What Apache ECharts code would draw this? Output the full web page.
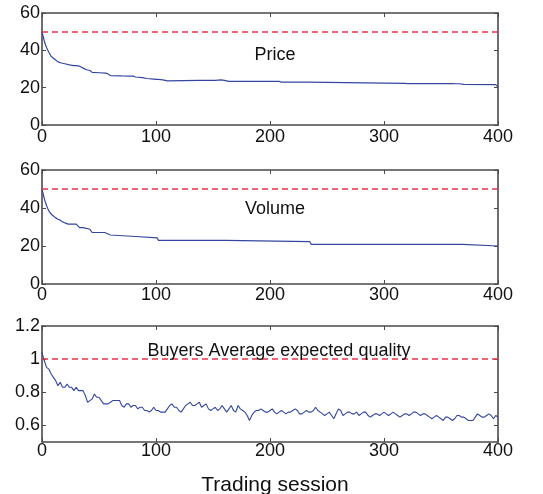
<!DOCTYPE html>
<html>
<head>
<meta charset="UTF-8">
<title>Trading session</title>
<script src="https://cdn.jsdelivr.net/npm/echarts@6/dist/echarts.min.js"></script>
<style>
  html, body { margin: 0; padding: 0; background: #fff; }
  #chart { width: 543px; height: 494px; }
</style>
</head>
<body>
<div id="chart"></div>
<script>
// data: [session, value]
var price = [[0,50],[1,47.5],[2,45],[3,43],[4,41.5],[5,40.2],[6,39],[7,38],[8,36.8],[10,35.8],[12,34.8],[14,33.8],
  [17,33.2],[20,32.8],[24,32.2],[28,31.8],[30,31.8],[31,31.3],[33,31.5],[34,31],[37,30.2],[39,29.6],[42,29.2],[44,28.2],
  [50,28],[56,27.8],[58,27.3],[60,26.5],[70,26.3],[78,26.2],[79,25.8],[80,26.2],[82,25.7],[88,25.4],[92,24.9],[98,24.6],
  [100,24.4],[101,24.9],[102,24.4],[106,24.2],[108,23.9],[110,23.6],[111,23.9],[138,23.9],[139,23.6],[140,23.9],
  [152,23.9],[153,24.2],[157,24.2],[158,23.7],[160,23.9],[164,23.4],[208,23.4],[210,23],[230,23],[231,22.6],[233,23],
  [234,22.3],[318,22.3],[319,21.7],[321,22.2],[325,22.2],[326,21.7],[328,22.2],[345,22.2],[346,21.7],[347,22.2],
  [360,22.2],[361,21.7],[363,22.1],[366,22.1],[367,21.7],[370,21.8],[398,21.6],[399,21.4],[400,20.4]];

var volume = [[0,50],[1,47.5],[2,45],[3,43],[4,41.2],[5,39.8],[6,38.5],[7,37.8],[8,36.8],[10,35.8],[12,34.8],[14,34.1],
  [16,33.6],[18,32.7],[20,32.2],[23,31.5],[30,31.5],[31,30.6],[33,29.7],[36,29.7],[37,28.8],[42,28.8],[43,27.9],[44,27.1],
  [55,27.1],[56,26.3],[60,25.8],[61,25],[82,25],[83,24.3],[101,24.3],[102,23],[161,23],[162,22.3],[235,22.3],[236,20.9],
  [369,20.9],[370,20],[400,20]];

// buyers' average expected quality, one reading every 2 sessions (0..400)
var qualityStep = 2;
var quality = [
  1.04,0.99,0.95,0.94,0.91,0.89,0.87,0.84,0.86,0.83,
  0.83,0.85,0.83,0.83,0.81,0.83,0.81,0.81,0.81,0.78,
  0.74,0.75,0.76,0.79,0.77,0.77,0.75,0.73,0.73,0.73,
  0.74,0.75,0.75,0.75,0.75,0.72,0.71,0.73,0.73,0.71,
  0.72,0.72,0.70,0.71,0.71,0.69,0.69,0.68,0.69,0.71,
  0.69,0.69,0.68,0.68,0.68,0.70,0.72,0.73,0.71,0.71,
  0.69,0.68,0.70,0.72,0.73,0.74,0.72,0.72,0.73,0.74,
  0.71,0.72,0.73,0.70,0.69,0.70,0.71,0.69,0.70,0.72,
  0.70,0.68,0.70,0.72,0.69,0.68,0.72,0.70,0.69,0.68,
  0.66,0.63,0.66,0.68,0.69,0.69,0.70,0.69,0.68,0.68,
  0.69,0.70,0.68,0.67,0.68,0.69,0.68,0.67,0.68,0.68,
  0.69,0.70,0.69,0.67,0.67,0.68,0.69,0.68,0.68,0.69,
  0.71,0.69,0.68,0.67,0.66,0.67,0.68,0.66,0.64,0.67,
  0.70,0.69,0.66,0.67,0.68,0.68,0.67,0.67,0.68,0.66,
  0.67,0.68,0.68,0.66,0.65,0.66,0.67,0.67,0.66,0.67,
  0.68,0.67,0.66,0.67,0.68,0.67,0.66,0.65,0.66,0.67,
  0.67,0.66,0.67,0.68,0.68,0.67,0.66,0.67,0.67,0.66,
  0.65,0.64,0.65,0.66,0.65,0.64,0.63,0.65,0.65,0.64,
  0.63,0.64,0.66,0.66,0.65,0.65,0.64,0.63,0.63,0.63,
  0.65,0.67,0.66,0.65,0.65,0.66,0.67,0.66,0.64,0.66,
  0.65];

var refPrice = 50, refVolume = 50, refQuality = 1;
var panelTitles = ['Price', 'Volume', 'Buyers Average expected quality'];
var xTicks = [0, 100, 200, 300, 400];
var yTicksTop = [0, 20, 40, 60];
var yTicksQuality = [0.6, 0.8, 1, 1.2];
var xName = 'Trading session';

var font = 'Liberation Sans, Arial, Helvetica, sans-serif';
var blue = '#3447a0', red = '#e8334a', frame = '#4a4a4a';

var grids = [
  { left: 42, right: 45, top: 13, height: 112 },
  { left: 42, right: 45, top: 170, height: 114 },
  { left: 42, right: 45, top: 326, height: 116 }
];

var xAxes = [], yAxes = [];
var xMargins = [3, 2, 0];
var frameLine = { show: true, onZero: false, lineStyle: { color: frame, width: 1.6 } };
grids.forEach(function (g, i) {
  // bottom axis with labels
  xAxes.push({
    type: 'value', gridIndex: i, min: 0, max: 400, interval: 100,
    axisLine: frameLine,
    axisTick: { inside: true, length: 4, lineStyle: { color: frame } },
    axisLabel: { color: '#111', fontSize: 18, fontFamily: font, margin: xMargins[i],
      customValues: xTicks, showMinLabel: true, showMaxLabel: true },
    splitLine: { show: false }
  });
  // top frame
  xAxes.push({
    type: 'value', gridIndex: i, position: 'top', min: 0, max: 400, interval: 100,
    axisLine: frameLine,
    axisTick: { inside: true, length: 4, lineStyle: { color: frame } },
    axisLabel: { show: false }, splitLine: { show: false }
  });
  var yq = i === 2;
  var yBase = yq
    ? { min: 0.5, max: 1.2, interval: 0.1 }
    : { min: 0, max: 60, interval: 20 };
  var ticks = yq ? yTicksQuality : yTicksTop;
  yAxes.push(Object.assign({
    type: 'value', gridIndex: i,
    axisLine: frameLine,
    axisTick: { show: true, inside: true, length: 4, lineStyle: { color: frame }, customValues: ticks },
    axisLabel: { color: '#111', fontSize: 18, fontFamily: font, margin: 2, customValues: ticks },
    splitLine: { show: false }
  }, yBase));
  yAxes.push(Object.assign({
    type: 'value', gridIndex: i, position: 'right',
    axisLine: frameLine,
    axisTick: { show: true, inside: true, length: 4, lineStyle: { color: frame }, customValues: ticks },
    axisLabel: { show: false }, splitLine: { show: false }
  }, yBase));
});

function refLine(v) {
  return {
    silent: true, symbol: 'none', label: { show: false },
    lineStyle: { color: red, type: [6, 4], width: 1.5 },
    data: [{ yAxis: v }]
  };
}

var qualityData = quality.map(function (v, k) { return [k * qualityStep, v]; });

var option = {
  animation: false,
  backgroundColor: '#fff',
  grid: grids,
  xAxis: xAxes,
  yAxis: yAxes,
  title: [
    { text: panelTitles[0], left: 270, top: 41, textAlign: 'center',
      textStyle: { fontSize: 18, fontWeight: 'normal', color: '#111', fontFamily: font } },
    { text: panelTitles[1], left: 270, top: 195, textAlign: 'center',
      textStyle: { fontSize: 18, fontWeight: 'normal', color: '#111', fontFamily: font } },
    { text: panelTitles[2], left: 274, top: 337, textAlign: 'center',
      textStyle: { fontSize: 18, fontWeight: 'normal', color: '#111', fontFamily: font } },
    { text: xName, left: 270, top: 470, textAlign: 'center',
      textStyle: { fontSize: 21, fontWeight: 'normal', color: '#111', fontFamily: font } }
  ],
  series: [
    { type: 'line', xAxisIndex: 0, yAxisIndex: 0, data: price, showSymbol: false,
      lineStyle: { color: blue, width: 1.2 }, markLine: refLine(refPrice) },
    { type: 'line', xAxisIndex: 2, yAxisIndex: 2, data: volume, showSymbol: false,
      lineStyle: { color: blue, width: 1.2 }, markLine: refLine(refVolume) },
    { type: 'line', xAxisIndex: 4, yAxisIndex: 4, data: qualityData, showSymbol: false,
      lineStyle: { color: blue, width: 1.1 }, markLine: refLine(refQuality) }
  ]
};

var chart = echarts.init(document.getElementById('chart'), null, { renderer: 'canvas' });
chart.setOption(option);
</script>
</body>
</html>
